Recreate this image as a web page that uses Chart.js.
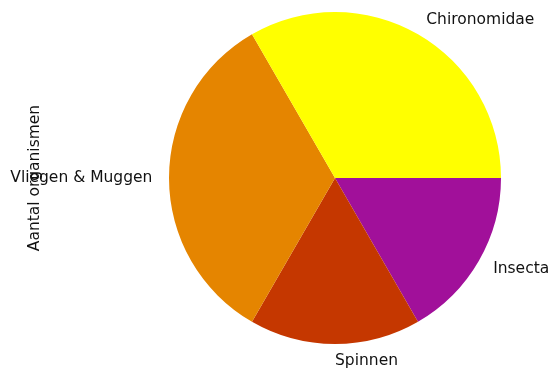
<!DOCTYPE html>
<html>
<head>
<meta charset="utf-8">
<script src="https://cdn.jsdelivr.net/npm/chart.js@4"></script>
<style>
  body { margin: 0; background: #fff; }
  canvas { display: block; }
</style>
</head>
<body>
<canvas id="pieChart" width="550" height="374"></canvas>
<script>
// Data, in the order matplotlib draws it (counter-clockwise from 3 o'clock)
const categories = ['Chironomidae', 'Vliegen & Muggen', 'Spinnen', 'Insecta'];
const counts = [2, 2, 1, 1];
const colors = ['#ffff00', '#e58500', '#c53700', '#a1109a'];
const yLabel = 'Aantal organismen';

// Chart.js goes clockwise, so reverse to get the same layout
const labelsCw = categories.slice().reverse();
const countsCw = counts.slice().reverse();
const colorsCw = colors.slice().reverse();

const FONT = '15.5px "DejaVu Sans", sans-serif';
const TEXT_COLOR = '#111';

const pieLabels = {
    id: 'pieLabels',
    afterDraw(chart) {
        const ctx = chart.ctx;
        const meta = chart.getDatasetMeta(0);
        ctx.save();
        ctx.font = FONT;
        ctx.fillStyle = TEXT_COLOR;
        ctx.textBaseline = 'middle';
        meta.data.forEach((arc, i) => {
            const mid = (arc.startAngle + arc.endAngle) / 2;
            const r = arc.outerRadius * 1.1;
            const x = arc.x + Math.cos(mid) * r;
            const y = arc.y + Math.sin(mid) * r;
            ctx.textAlign = Math.cos(mid) > 0 ? 'left' : 'right';
            ctx.fillText(chart.data.labels[i], x, y);
        });
        // y-axis label, rotated
        ctx.translate(35, meta.data[0].y);
        ctx.rotate(-Math.PI / 2);
        ctx.textAlign = 'center';
        ctx.fillText(yLabel, 0, 0);
        ctx.restore();
    }
};

new Chart(document.getElementById('pieChart').getContext('2d'), {
    type: 'pie',
    data: {
        labels: labelsCw,
        datasets: [{
            data: countsCw,
            backgroundColor: colorsCw,
            borderWidth: 0
        }]
    },
    options: {
        responsive: false,
        animation: false,
        rotation: 90,
        layout: { padding: { left: 169, right: 49, top: 12, bottom: 30 } },
        plugins: {
            legend: { display: false },
            tooltip: { enabled: false }
        }
    },
    plugins: [pieLabels]
});
</script>
</body>
</html>
